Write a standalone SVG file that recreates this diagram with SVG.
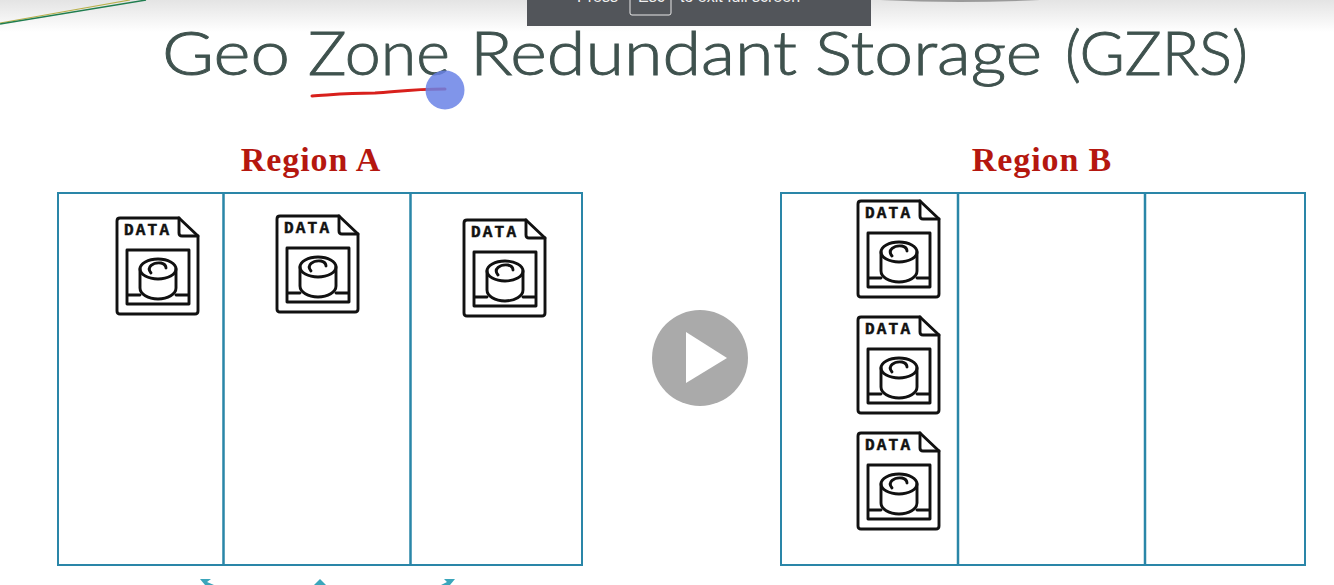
<svg xmlns="http://www.w3.org/2000/svg" width="1334" height="585" viewBox="0 0 1334 585">
<style>
.title{font-family:"Lato","Liberation Sans",sans-serif;font-size:62px;fill:#3f524e;font-weight:300;stroke:#3f524e;stroke-width:.9}
.region{font-family:"Liberation Serif",serif;font-weight:700;font-size:34px;fill:#b5170f;text-anchor:middle;letter-spacing:.9px}
.box{fill:#fff;stroke:#2a86a8;stroke-width:2}
.div{stroke:#2a86a8;stroke-width:2.5;fill:none}
.ic{fill:none;stroke:#111;stroke-width:2.9;stroke-linejoin:round;stroke-linecap:round}
.dt{font-family:"Liberation Mono",monospace;font-weight:700;font-size:16px;fill:#111;stroke:#111;stroke-width:.5;letter-spacing:2.2px}
.tip{fill:#3ba6bb}
</style>
<defs>
<linearGradient id="top" x1="0" y1="0" x2="0" y2="1"><stop offset="0" stop-color="#e4e4e4"/><stop offset="1" stop-color="#fff"/></linearGradient>
<clipPath id="barclip"><rect x="527" y="0" width="344" height="26"/></clipPath>
<g id="icon">
<path class="ic" d="M4 0H63L82 18V93Q82 96 79 96H4Q1 96 1 93V3Q1 0 4 0Z"/>
<path class="ic" d="M63 0V15Q63 18 66 18H82"/>
<path class="ic" d="M11 86V32H73V86H11ZM11 77H24M60 77H73"/>
<path class="ic" d="M24 51V70C24 76 32 81 42 81C52 81 60 76 60 70V51"/>
<ellipse class="ic" cx="42" cy="51" rx="18" ry="10"/>
<path class="ic" d="M35 55C30 49 37 44 45 45C49 46 50 48 50 50"/>
</g>
</defs>
<rect width="1334" height="585" fill="#fff"/>
<rect width="1334" height="32" fill="url(#top)"/>
<path d="M0 23L130 0" stroke="#b9b04a" stroke-width="1.200" fill="none"/>
<path d="M0 24L146 0" stroke="#1f7d4f" stroke-width="1.400" fill="none"/>
<path d="M880 0Q960 4 1040 0Z" fill="#9a9a9a"/>
<g id="fullscreen-bar">
<rect x="527" y="0" width="344" height="26" fill="#52555a"/>
<rect x="630" y="-10" width="41" height="25" rx="2" fill="none" stroke="#e8e8e8" stroke-width="1"/>
<g clip-path="url(#barclip)" font-family="Liberation Sans,sans-serif" font-size="16" fill="#f0f0f0">
<text x="577" y="2">Press</text>
<text x="638" y="2">Esc</text>
<text x="680" y="2">to exit full screen</text>
</g>
</g>
<text id="title" class="title" y="75"><tspan x="162" textLength="128" lengthAdjust="spacingAndGlyphs">Geo</tspan> <tspan x="308" textLength="142" lengthAdjust="spacingAndGlyphs">Zone</tspan> <tspan x="470" textLength="327" lengthAdjust="spacingAndGlyphs">Redundant</tspan> <tspan x="815" textLength="227" lengthAdjust="spacingAndGlyphs">Storage</tspan> <tspan x="1065" textLength="183" lengthAdjust="spacingAndGlyphs">(GZRS)</tspan></text>
<g id="annotation">
<path d="M312 96C330 95 345 93 375 93C395 92 410 89 445 89" fill="none" stroke="#d8201c" stroke-width="3" stroke-linecap="round"/>
<circle cx="445" cy="90" r="19.500" fill="#6a83e6" fill-opacity=".85"/>
</g>
<text class="region" x="311" y="171">Region A</text>
<text class="region" x="1042" y="171">Region B</text>
<g id="region-a">
<rect class="box" x="58" y="193" width="524" height="372"/>
<path class="div" d="M223.500 193V565M410.500 193V565"/>
</g>
<g id="region-b">
<rect class="box" x="781" y="193" width="524" height="372"/>
<path class="div" d="M958 193V565M1145 193V565"/>
</g>
<g id="a1" transform="translate(116 218)"><use href="#icon"/><text class="dt" x="8" y="17">DATA</text></g>
<g id="a2" transform="translate(276 216)"><use href="#icon"/><text class="dt" x="8" y="17">DATA</text></g>
<g id="a3" transform="translate(463 220)"><use href="#icon"/><text class="dt" x="8" y="17">DATA</text></g>
<g id="b1" transform="translate(857 201)"><use href="#icon"/><text class="dt" x="8" y="17">DATA</text></g>
<g id="b2" transform="translate(857 317)"><use href="#icon"/><text class="dt" x="8" y="17">DATA</text></g>
<g id="b3" transform="translate(857 433)"><use href="#icon"/><text class="dt" x="8" y="17">DATA</text></g>
<g id="connectors">
<path class="tip" d="M200 579H211L207 582L214 585H205Z"/>
<path class="tip" d="M320 579L326 585H314Z"/>
<path class="tip" d="M444 579H455L450 585H441L447 582Z"/>
</g>
<g id="play">
<circle cx="700" cy="358" r="48" fill="#aaa"/>
<path d="M686 332L727 358L686 383Z" fill="#fff"/>
</g>
</svg>
